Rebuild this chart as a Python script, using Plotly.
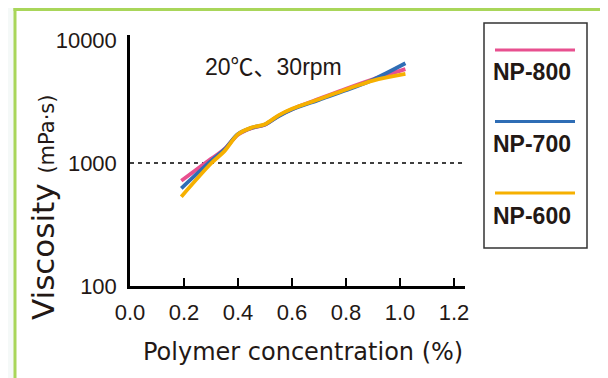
import plotly.graph_objects as go

# ---- data ----
concentration = [0.19, 0.30, 0.35, 0.40, 0.45, 0.50, 0.55, 0.60, 0.70, 0.80, 0.90, 1.02]
np800 = [718, 1080, 1300, 1700, 1920, 2050, 2420, 2740, 3320, 4020, 4800, 5800]
np700 = [623, 1040, 1290, 1720, 1930, 2060, 2400, 2720, 3260, 3900, 4760, 6470]
np600 = [532, 990, 1250, 1710, 1940, 2070, 2440, 2760, 3300, 3960, 4680, 5300]
series_names = ["NP-800", "NP-700", "NP-600"]
series_colors = ["#e8508f", "#2f6db5", "#f6b000"]
x_ticks = [0.0, 0.2, 0.4, 0.6, 0.8, 1.0, 1.2]
x_tick_labels = ["0.0", "0.2", "0.4", "0.6", "0.8", "1.0", "1.2"]
y_ticks = [100, 1000, 10000]
y_tick_labels = ["100", "1000", "10000"]
ref_level = 1000

OFF = 8  # page body margin
W, H = 608, 378
L, T = 130 - OFF, 35 - OFF
PW, PH = 335, 251
R, B = W - L - PW, H - T - PH
TXT = "#231815"


def px(x):
    return (x - OFF - L) / PW


def py(y):
    return (T + PH - (y - OFF)) / PH


fig = go.Figure()

# reference dashed line at 1000
fig.add_trace(go.Scatter(x=[0, 1.24], y=[ref_level, ref_level], mode="lines",
                         line=dict(color="#000000", width=1.4, dash="4px,4px"),
                         showlegend=False, hoverinfo="skip"))

for name, vals, col in zip(series_names, [np800, np700, np600], series_colors):
    fig.add_trace(go.Scatter(x=concentration, y=vals, mode="lines", name=name,
                             line=dict(color=col, width=3.8, shape="spline", smoothing=0.9),
                             showlegend=False))

shapes = [
    # white card with green frame
    dict(type="rect", xref="paper", yref="paper", x0=px(15), x1=px(620), y0=py(8), y1=py(390),
         fillcolor="white", line=dict(width=0), layer="below"),
    dict(type="line", xref="paper", yref="paper", x0=px(13.5), x1=px(620), y0=py(9.5), y1=py(9.5),
         line=dict(color="#a9d65a", width=3)),
    dict(type="line", xref="paper", yref="paper", x0=px(15), x1=px(15), y0=py(8), y1=py(390),
         line=dict(color="#a9d65a", width=3)),
    # legend box
    dict(type="rect", xref="paper", yref="paper", x0=px(484), x1=px(587), y0=py(23), y1=py(248),
         fillcolor="rgba(0,0,0,0)", line=dict(color="#333333", width=1.5)),
]
annotations = []
legend_line_y = [50, 121.5, 193]
legend_text_y = [72, 144, 216]
for name, col, ly, ty in zip(series_names, series_colors, legend_line_y, legend_text_y):
    shapes.append(dict(type="line", xref="paper", yref="paper", x0=px(495), x1=px(575),
                       y0=py(ly), y1=py(ly), line=dict(color=col, width=3)))
    annotations.append(dict(text="<b>" + name + "</b>", xref="paper", yref="paper",
                            x=px(532), y=py(ty), xanchor="center", yanchor="middle",
                            showarrow=False,
                            font=dict(family="Liberation Sans", size=23, color=TXT)))

# condition label
annotations.append(dict(text="20℃、30rpm", xref="paper", yref="paper", x=px(273), y=py(67),
                        xanchor="center", yanchor="middle", showarrow=False,
                        font=dict(family="Liberation Sans, Noto Sans CJK JP", size=23, color=TXT)))
# axis titles
annotations.append(dict(text="Viscosity <span style='font-size:21px'>(mPa·s)</span>",
                        xref="paper", yref="paper", x=px(43), y=py(208), textangle=-90,
                        xanchor="center", yanchor="middle", showarrow=False,
                        font=dict(family="DejaVu Sans", size=31, color=TXT)))
annotations.append(dict(text="Polymer concentration (%)", xref="paper", yref="paper",
                        x=px(303), y=py(352), xanchor="center", yanchor="middle",
                        showarrow=False, font=dict(family="DejaVu Sans", size=24, color=TXT)))

fig.update_layout(
    width=W, height=H, margin=dict(l=L, r=R, t=T, b=B),
    paper_bgcolor="#f5f9f8", plot_bgcolor="white",
    shapes=shapes, annotations=annotations, showlegend=False,
    xaxis=dict(range=[0, 1.2407], tickvals=x_ticks, ticktext=x_tick_labels,
               ticks="inside", ticklen=8, tickwidth=2, tickcolor="black",
               showline=True, linecolor="black", linewidth=2.5, showgrid=False, zeroline=False,
               tickfont=dict(family="Liberation Sans", size=22, color=TXT), ticklabelstandoff=5),
    yaxis=dict(type="log", range=[2, 2 + PH / 123.0], tickvals=y_ticks, ticktext=y_tick_labels,
               ticks="", showline=True, linecolor="black", linewidth=2.5, showgrid=False,
               zeroline=False, tickfont=dict(family="Liberation Sans", size=22, color=TXT),
               ticklabelstandoff=6),
)

fig.write_html("out.html")
